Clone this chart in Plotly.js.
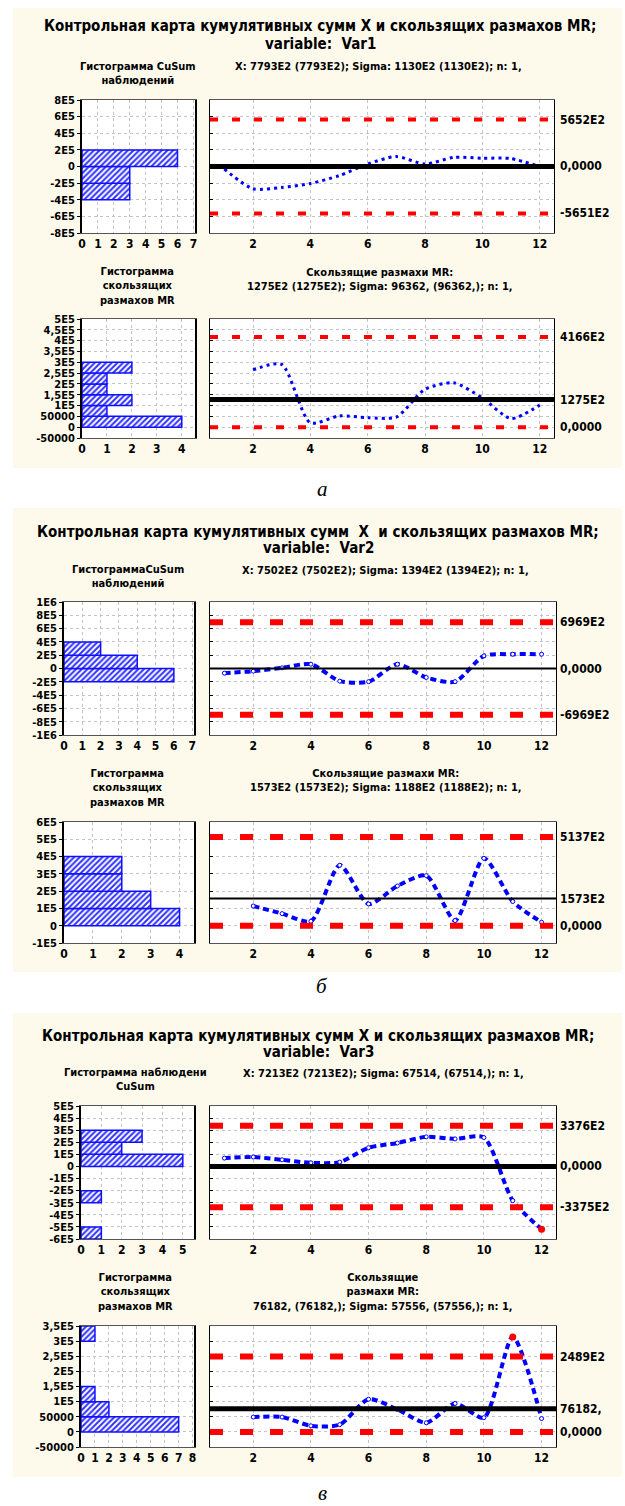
<!DOCTYPE html>
<html><head><meta charset="utf-8">
<script src="https://cdn.plot.ly/plotly-3.0.1.min.js"></script>
<style>html,body{margin:0;padding:0;background:#fff}#chart{width:625px;height:1506px}</style>
</head><body><div id="chart"></div>
<script>
// ================= DATA =================
const obs   = [1,2,3,4,5,6,7,8,9,10,11,12];
const mrObs = [2,3,4,5,6,7,8,9,10,11,12];

// ---- Var1 (а) ----
const titles1 = ['Контрольная карта кумулятивных сумм X и скользящих размахов MR;', 'variable:&nbsp; Var1'];
const cusumHistTitle1 = 'Гистограмма CuSum<br>наблюдений';
const cusumStats1 = 'X: 7793E2 (7793E2); Sigma: 1130E2 (1130E2); n: 1,';
const mrHistTitle1 = 'Гистограмма<br>скользящих<br>размахов MR';
const mrStats1 = 'Скользящие размахи MR:<br>1275E2 (1275E2); Sigma: 96362, (96362,); n: 1,';
const cusum1 = [-30000,-268000,-252000,-205000,-110000,30000,120000,30000,110000,100000,95000,-1000];
const mr1    = [265000,290000,20000,52000,44000,47000,175000,205000,135000,40000,102000];
const cusumLimits1 = [565200, 0, -565100];
const cusumLimitLabels1 = ['5652E2','0,0000','-5651E2'];
const mrLimits1 = [416600, 127500, 0];
const mrLimitLabels1 = ['4166E2','1275E2','0,0000'];
const cusumBinLow1  = [-400000,-200000,0];
const cusumBinHigh1 = [-200000,0,200000];
const cusumCount1   = [3,3,6];
const mrBinLow1  = [0,50000,100000,150000,200000,250000];
const mrBinHigh1 = [50000,100000,150000,200000,250000,300000];
const mrCount1   = [4,1,2,1,1,2];
const cusumTickVals1 = [-800000,-600000,-400000,-200000,0,200000,400000,600000,800000];
const cusumTickText1 = ['-8E5','-6E5','-4E5','-2E5','0','2E5','4E5','6E5','8E5'];
const mrTickVals1 = [-50000,0,50000,100000,150000,200000,250000,300000,350000,400000,450000,500000];
const mrTickText1 = ['-50000','0','50000','1E5','1,5E5','2E5','2,5E5','3E5','3,5E5','4E5','4,5E5','5E5'];
const cusumCountTicks1 = [0,1,2,3,4,5,6,7];
const mrCountTicks1 = [0,1,2,3,4];
const caption1 = 'а';

// ---- Var2 (б) ----
const titles2 = ['Контрольная карта кумулятивных сумм&nbsp; X&nbsp; и скользящих размахов MR;', 'variable:&nbsp; Var2'];
const cusumHistTitle2 = 'ГистограммаCuSum<br>наблюдений';
const cusumStats2 = 'X: 7502E2 (7502E2); Sigma: 1394E2 (1394E2); n: 1,';
const mrHistTitle2 = 'Гистограмма<br>скользящих<br>размахов MR';
const mrStats2 = 'Скользящие размахи MR:<br>1573E2 (1573E2); Sigma: 1188E2 (1188E2); n: 1,';
const cusum2 = [-70000,-40000,10000,65000,-190000,-198000,65000,-135000,-198000,190000,215000,215000];
const mr2    = [114000,70000,26000,350000,126000,230000,290000,30000,390000,140000,20000];
const cusumLimits2 = [696900, 0, -696900];
const cusumLimitLabels2 = ['6969E2','0,0000','-6969E2'];
const mrLimits2 = [513700, 157300, 0];
const mrLimitLabels2 = ['5137E2','1573E2','0,0000'];
const cusumBinLow2  = [-200000,0,200000];
const cusumBinHigh2 = [0,200000,400000];
const cusumCount2   = [6,4,2];
const mrBinLow2  = [0,100000,200000,300000];
const mrBinHigh2 = [100000,200000,300000,400000];
const mrCount2   = [4,3,2,2];
const cusumTickVals2 = [-1000000,-800000,-600000,-400000,-200000,0,200000,400000,600000,800000,1000000];
const cusumTickText2 = ['-1E6','-8E5','-6E5','-4E5','-2E5','0','2E5','4E5','6E5','8E5','1E6'];
const mrTickVals2 = [-100000,0,100000,200000,300000,400000,500000,600000];
const mrTickText2 = ['-1E5','0','1E5','2E5','3E5','4E5','5E5','6E5'];
const cusumCountTicks2 = [0,1,2,3,4,5,6,7];
const mrCountTicks2 = [0,1,2,3,4];
const caption2 = 'б';

// ---- Var3 (в) ----
const titles3 = ['Контрольная карта кумулятивных сумм X и скользящих размахов MR;', 'variable:&nbsp; Var3'];
const cusumHistTitle3 = 'Гистограмма наблюдени<br>CuSum';
const cusumStats3 = 'X: 7213E2 (7213E2); Sigma: 67514, (67514,); n: 1,';
const mrHistTitle3 = 'Гистограмма<br>скользящих<br>размахов MR';
const mrStats3 = 'Скользящие<br>размахи MR:<br>76182, (76182,); Sigma: 57556, (57556,); n: 1,';
const cusum3 = [69000,78000,55000,30000,36000,155000,194000,245000,228000,239000,-283000,-519000];
const mr3    = [49000,49000,20000,24000,108000,74000,30000,94000,47000,314000,44000];
const cusumLimits3 = [337600, 0, -337500];
const cusumLimitLabels3 = ['3376E2','0,0000','-3375E2'];
const mrLimits3 = [248900, 76182, 0];
const mrLimitLabels3 = ['2489E2','76182,','0,0000'];
const cusumBinLow3  = [-600000,-300000,0,100000,200000];
const cusumBinHigh3 = [-500000,-200000,100000,200000,300000];
const cusumCount3   = [1,1,5,2,3];
const mrBinLow3  = [0,50000,100000,300000];
const mrBinHigh3 = [50000,100000,150000,350000];
const mrCount3   = [7,2,1,1];
const cusumTickVals3 = [-600000,-500000,-400000,-300000,-200000,-100000,0,100000,200000,300000,400000,500000];
const cusumTickText3 = ['-6E5','-5E5','-4E5','-3E5','-2E5','-1E5','0','1E5','2E5','3E5','4E5','5E5'];
const mrTickVals3 = [-50000,0,50000,100000,150000,200000,250000,300000,350000];
const mrTickText3 = ['-50000','0','50000','1E5','1,5E5','2E5','2,5E5','3E5','3,5E5'];
const cusumCountTicks3 = [0,1,2,3,4,5];
const mrCountTicks3 = [0,1,2,3,4,5,6,7,8];
const caption3 = 'в';

const obsTicks = [2,4,6,8,10,12];

// ================= STYLE / LAYOUT =================
const W = 625, H = 1506;
const fx = p => p / W;
const fy = p => 1 - p / H;
const FONT = '"Liberation Sans Narrow","Arial Narrow","DejaVu Sans Condensed","Liberation Sans",Arial,sans-serif';
const BLUE = '#0000ff', RED = '#ff0000', CREAM = '#fdfaec';

const sets = [
  {titles:titles1, chT:cusumHistTitle1, cS:cusumStats1, mhT:mrHistTitle1, mS:mrStats1, cusum:cusum1, mr:mr1,
   cL:cusumLimits1, cLL:cusumLimitLabels1, mL:mrLimits1, mLL:mrLimitLabels1,
   cBL:cusumBinLow1, cBH:cusumBinHigh1, cC:cusumCount1, mBL:mrBinLow1, mBH:mrBinHigh1, mC:mrCount1,
   cTV:cusumTickVals1, cTT:cusumTickText1, mTV:mrTickVals1, mTT:mrTickText1, cCT:cusumCountTicks1, mCT:mrCountTicks1, cap:caption1},
  {titles:titles2, chT:cusumHistTitle2, cS:cusumStats2, mhT:mrHistTitle2, mS:mrStats2, cusum:cusum2, mr:mr2,
   cL:cusumLimits2, cLL:cusumLimitLabels2, mL:mrLimits2, mLL:mrLimitLabels2,
   cBL:cusumBinLow2, cBH:cusumBinHigh2, cC:cusumCount2, mBL:mrBinLow2, mBH:mrBinHigh2, mC:mrCount2,
   cTV:cusumTickVals2, cTT:cusumTickText2, mTV:mrTickVals2, mTT:mrTickText2, cCT:cusumCountTicks2, mCT:mrCountTicks2, cap:caption2},
  {titles:titles3, chT:cusumHistTitle3, cS:cusumStats3, mhT:mrHistTitle3, mS:mrStats3, cusum:cusum3, mr:mr3,
   cL:cusumLimits3, cLL:cusumLimitLabels3, mL:mrLimits3, mLL:mrLimitLabels3,
   cBL:cusumBinLow3, cBH:cusumBinHigh3, cC:cusumCount3, mBL:mrBinLow3, mBH:mrBinHigh3, mC:mrCount3,
   cTV:cusumTickVals3, cTT:cusumTickText3, mTV:mrTickVals3, mTT:mrTickText3, cCT:cusumCountTicks3, mCT:mrCountTicks3, cap:caption3}
];

const geo = [
  {cream:[13,8,622,468], tY:[26,44], tX:320, chXY:[138,74], cSXY:[378,67], mhXY:[137,286], mSXY:[380,279], capY:489,
   hc:[82,100,195,233], cc:[210,100,554,233], hm:[82,319,195,438], cm:[210,319,554,438],
   hcX:[0,7.1], hmX:[0,4.53], cRange:[-800000,800000], mRange:[-50000,500000],
   clW:5, redW:4, redDash:'8px,14px', blueW:3, blueDash:'3px,4px', mk:0},
  {cream:[13,508,622,972], tY:[532,548], tX:318, chXY:[128,576], cSXY:[385,570], mhXY:[127,788], mSXY:[386,780], capY:986,
   hc:[64,602,194,735], cc:[210,602,556,735], hm:[64,822,194,943], cm:[210,822,556,943],
   hcX:[0,7.1], hmX:[0,4.5], cRange:[-1000000,1000000], mRange:[-100000,600000],
   clW:2, redW:6, redDash:'13px,17px', blueW:4, blueDash:'6px,4px', mk:4},
  {cream:[13,1013,622,1477], tY:[1036,1052], tX:318, chXY:[135,1079], cSXY:[383,1073], mhXY:[135,1292], mSXY:[383,1292], capY:1493,
   hc:[81,1106,194,1239], cc:[210,1106,556,1239], hm:[81,1326,194,1447], cm:[210,1326,556,1447],
   hcX:[0,5.55], hmX:[0,8.1], cRange:[-600000,500000], mRange:[-50000,350000],
   clW:5, redW:6, redDash:'13px,17px', blueW:4, blueDash:'6px,4px', mk:4}
];

const traces = [], shapes = [], annotations = [];
const layout = {
  width: W, height: H, autosize: false,
  margin: {l:0, r:0, t:0, b:0, pad:0},
  paper_bgcolor: '#ffffff', plot_bgcolor: '#ffffff',
  showlegend: false, hovermode: false,
  font: {family: FONT, color: '#000', size: 11},
  shapes: shapes, annotations: annotations
};

const yTickFont = {family: FONT, size: 11, color: '#000', weight: 'bold'};
const xTickFont = {family: FONT, size: 12, color: '#000', weight: 'bold'};
function axName(p, n){ return n === 1 ? p : p + n; }
function axKey(p, n){ return n === 1 ? p + 'axis' : p + 'axis' + n; }

function setAxes(n, box, xo, yo){
  const common = {showline:true, linecolor:'#555', linewidth:1, mirror:true,
    showgrid:true, gridcolor:'#c4c4c4', griddash:'dot', gridwidth:1, zeroline:false,
    fixedrange:true, ticklen:3, tickcolor:'#000'};
  layout[axKey('x', n)] = Object.assign({}, common, {domain:[fx(box[0]), fx(box[2])], anchor: axName('y', n), tickfont:xTickFont}, xo);
  layout[axKey('y', n)] = Object.assign({}, common, {domain:[fy(box[3]), fy(box[1])], anchor: axName('x', n), tickfont:yTickFont}, yo);
}

function pAnn(x, y, text, font, extra){
  annotations.push(Object.assign({xref:'paper', yref:'paper', x: fx(x), y: fy(y), text: text,
    showarrow:false, xanchor:'center', yanchor:'middle', font: font}, extra || {}));
}
function rect(b, color){
  shapes.push({type:'rect', xref:'paper', yref:'paper', x0:fx(b[0]), x1:fx(b[2]), y0:fy(b[3]), y1:fy(b[1]),
    fillcolor: color, line:{width:0}, layer:'below'});
}

sets.forEach((S, i) => {
  const G = geo[i];
  const base = i * 4;
  const nHC = base + 1, nCC = base + 2, nHM = base + 3, nCM = base + 4;

  rect(G.cream, CREAM);
  [G.hc, G.cc, G.hm, G.cm].forEach(b => rect(b, '#ffffff'));

  pAnn(G.tX, G.tY[0], S.titles[0], {family: FONT, size: 15, color:'#000', weight:'bold'});
  pAnn(G.tX, G.tY[1], S.titles[1], {family: FONT, size: 15, color:'#000', weight:'bold'});
  const subF = {family: FONT, size: 11, color:'#000', weight:'bold'};
  pAnn(G.chXY[0], G.chXY[1], S.chT, subF);
  pAnn(G.cSXY[0], G.cSXY[1], S.cS, subF);
  pAnn(G.mhXY[0], G.mhXY[1], S.mhT, subF);
  pAnn(G.mSXY[0], G.mSXY[1], S.mS, subF);
  pAnn(322, G.capY, S.cap, {family:'"Liberation Serif","Times New Roman",serif', size: 21, color:'#000', style:'italic'});

  setAxes(nHC, G.hc, {range:G.hcX, tickmode:'array', tickvals:S.cCT, ticks:''},
                     {range:G.cRange, tickmode:'array', tickvals:S.cTV, ticktext:S.cTT, ticks:'outside', linecolor:'#000', linewidth:2});
  setAxes(nCC, G.cc, {range:[0.5,12.5], tickmode:'array', tickvals:obsTicks, ticks:''},
                     {range:G.cRange, tickmode:'array', tickvals:S.cTV, showticklabels:false, ticks:'inside', linecolor:'#000'});
  setAxes(nHM, G.hm, {range:G.hmX, tickmode:'array', tickvals:S.mCT, ticks:''},
                     {range:G.mRange, tickmode:'array', tickvals:S.mTV, ticktext:S.mTT, ticks:'outside', linecolor:'#000', linewidth:2});
  setAxes(nCM, G.cm, {range:[0.5,12.5], tickmode:'array', tickvals:obsTicks, ticks:''},
                     {range:G.mRange, tickmode:'array', tickvals:S.mTV, showticklabels:false, ticks:'inside', linecolor:'#000'});

  function hist(n, lo, hi, cnt){
    traces.push({type:'bar', orientation:'h', xaxis: axName('x', n), yaxis: axName('y', n),
      y: lo.map((v, k) => (v + hi[k]) / 2), width: lo.map((v, k) => hi[k] - v), x: cnt,
      marker:{color:'#ffffff', line:{color:'#1010ff', width:1.5},
        pattern:{shape:'/', fgcolor:'#3030ff', bgcolor:'#ffffff', size:4, solidity:0.5}},
      hoverinfo:'skip'});
  }
  hist(nHC, S.cBL, S.cBH, S.cC);
  hist(nHM, S.mBL, S.mBH, S.mC);

  function limits(n, L){
    L.forEach((v, k) => {
      const isCL = k === 1;
      shapes.push({type:'line', xref: axName('x', n) + ' domain', x0:0, x1:1, yref: axName('y', n), y0:v, y1:v,
        layer:'above',
        line: isCL ? {color:'#000', width:G.clW} : {color:RED, width:G.redW, dash:G.redDash}});
    });
  }
  limits(nCC, S.cL);
  limits(nCM, S.mL);

  function rlabels(n, L, T){
    L.forEach((v, k) => annotations.push({xref:'paper', yref: axName('y', n), x: fx(558), y: v, text: T[k],
      showarrow:false, xanchor:'left', yanchor:'middle', font:{family:FONT, size:12, color:'#000', weight:'bold'}}));
  }
  rlabels(nCC, S.cL, S.cLL);
  rlabels(nCM, S.mL, S.mLL);

  function line(n, xs, ys, L){
    traces.push({type:'scatter', mode: G.mk ? 'lines+markers' : 'lines', xaxis: axName('x', n), yaxis: axName('y', n),
      x: xs, y: ys, line:{color:BLUE, width:G.blueW, dash:G.blueDash, shape:'spline', smoothing:0.7},
      marker:{symbol:'circle', size:G.mk, color:'#ffffff', line:{color:BLUE, width:1}}, hoverinfo:'skip'});
    const ox = [], oy = [];
    ys.forEach((v, k) => { if (v > L[0] || v < L[2]) { ox.push(xs[k]); oy.push(v); } });
    traces.push({type:'scatter', mode:'markers', xaxis: axName('x', n), yaxis: axName('y', n),
      x: ox, y: oy, marker:{symbol:'circle', size:7, color:RED}, hoverinfo:'skip'});
  }
  line(nCC, obs, S.cusum, S.cL);
  line(nCM, mrObs, S.mr, S.mL);
});

Plotly.newPlot('chart', traces, layout, {staticPlot:true, displayModeBar:false});
</script></body></html>
